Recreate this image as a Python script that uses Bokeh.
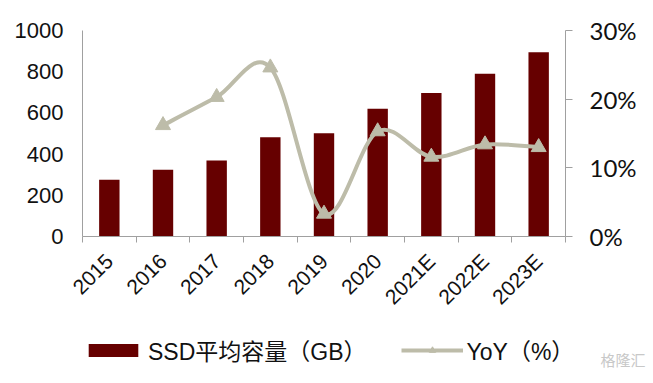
import math
from bokeh.plotting import figure
from bokeh.models import (Range1d, LinearAxis, FixedTicker, PrintfTickFormatter,
                          CustomJSTickFormatter, Legend, LegendItem, ColumnDataSource, Label)
from bokeh.embed import file_html
from bokeh.resources import INLINE

# ---- data ----
years = ["2015", "2016", "2017", "2018", "2019", "2020", "2021E", "2022E", "2023E"]
ssd_avg_gb = [275, 324, 369, 482, 501, 620, 696, 790, 895]
yoy_pct = [None, 16.2, 20.3, 24.6, 3.3, 15.3, 11.6, 13.4, 13.0]
left_ticks = [0, 200, 400, 600, 800, 1000]
right_ticks = [0, 10, 20, 30]
left_max = 1000
right_max = 30

BAR = "#660000"
LINE = "#BDBCA9"
AXIS = "#A0A0A0"
FONT = "Liberation Sans"

# layout (pixels)
W, H = 653, 383
FL, FR, FT, FB = 2, 651, 2, 381          # frame edges
PX0, PX1 = 82, 565                        # x = 0 and x = n
PY0, PY1 = 236, 30                        # y = 0 and y = max

n = len(years)
xc = [i + 0.5 for i in range(n)]

ux = (PX1 - PX0) / n
x_rng = Range1d(-(PX0 - FL) / ux, n + (FR - PX1) / ux)


def y_rng(vmax):
    uy = (PY0 - PY1) / vmax
    return Range1d(-(FB - PY0) / uy, vmax + (PY1 - FT) / uy)


p = figure(width=W, height=H, x_range=x_rng, y_range=y_rng(left_max),
           output_backend="svg", toolbar_location=None,
           x_axis_type=None, y_axis_type=None,
           min_border_left=FL, min_border_right=W - FR, min_border_top=FT,
           min_border_bottom=H - FB)
p.outline_line_color = None
p.background_fill_color = "white"
p.extra_y_ranges = {"pct": y_rng(right_max)}

# bars
bar_src = ColumnDataSource(dict(x=xc, y=ssd_avg_gb))
bars = p.vbar(x="x", top="y", bottom=0, width=0.38, source=bar_src, fill_color=BAR, line_color=None)

# smoothed YoY line (bezier segments with Catmull-Rom style control points)
pts = [(xc[i], v) for i, v in enumerate(yoy_pct) if v is not None]
seg = dict(x0=[], y0=[], x1=[], y1=[], cx0=[], cy0=[], cx1=[], cy1=[])
for k in range(len(pts) - 1):
    p0 = pts[k - 1] if k > 0 else pts[k]
    p1 = pts[k]
    p2 = pts[k + 1]
    p3 = pts[k + 2] if k + 2 < len(pts) else pts[k + 1]
    seg["x0"].append(p1[0]); seg["y0"].append(p1[1])
    seg["x1"].append(p2[0]); seg["y1"].append(p2[1])
    seg["cx0"].append(p1[0] + (p2[0] - p0[0]) / 6); seg["cy0"].append(p1[1] + (p2[1] - p0[1]) / 6)
    seg["cx1"].append(p2[0] - (p3[0] - p1[0]) / 6); seg["cy1"].append(p2[1] - (p3[1] - p1[1]) / 6)
curve = p.bezier(x0="x0", y0="y0", x1="x1", y1="y1", cx0="cx0", cy0="cy0", cx1="cx1", cy1="cy1",
                 source=ColumnDataSource(seg), line_color=LINE, line_width=4, y_range_name="pct")
mk_src = ColumnDataSource(dict(x=[q[0] for q in pts], y=[q[1] for q in pts]))
marks = p.scatter(x="x", y="y", source=mk_src, marker="triangle", size=15,
                  fill_color=LINE, line_color=LINE, y_range_name="pct")

# left axis
la = LinearAxis(ticker=FixedTicker(ticks=left_ticks), bounds=(0, left_max), fixed_location=0)
la.axis_line_color = AXIS
la.major_tick_line_color = None
la.minor_tick_line_color = None
la.major_label_standoff = 13
la.major_label_text_font = FONT
la.major_label_text_font_size = "22px"
la.major_label_text_color = "#111111"
p.add_layout(la, "left")

# right axis
ra = LinearAxis(y_range_name="pct", ticker=FixedTicker(ticks=right_ticks), bounds=(0, right_max),
                fixed_location=n, formatter=PrintfTickFormatter(format="%d%%"))
ra.axis_line_color = AXIS
ra.major_tick_line_color = AXIS
ra.major_tick_out = 7
ra.major_tick_in = 0
ra.minor_tick_line_color = None
ra.major_label_standoff = 17
ra.major_label_text_font = "Lato"
ra.major_label_text_font_size = "24px"
ra.major_label_text_color = "#111111"
p.add_layout(ra, "right")

# bottom axis at zero: boundary ticks only
ba = LinearAxis(ticker=FixedTicker(ticks=list(range(n + 1))), bounds=(0, n), fixed_location=0,
                formatter=CustomJSTickFormatter(code="return ''"))
ba.axis_line_color = AXIS
ba.major_tick_line_color = AXIS
ba.major_tick_out = 6
ba.major_tick_in = 0
ba.minor_tick_line_color = None
ba.major_label_standoff = 0
ba.major_label_text_font_size = "0px"
p.add_layout(ba, "below")

# bottom axis at zero: category labels
bl = LinearAxis(ticker=FixedTicker(ticks=xc), fixed_location=0,
                formatter=CustomJSTickFormatter(args=dict(labels=years),
                                                code="return labels[Math.floor(tick)]"))
bl.axis_line_color = None
bl.major_tick_line_color = None
bl.minor_tick_line_color = None
bl.major_tick_out = 0
bl.major_label_orientation = math.pi / 4
bl.major_label_standoff = 21
bl.major_label_text_font = FONT
bl.major_label_text_font_size = "21px"
bl.major_label_text_color = "#111111"
p.add_layout(bl, "below")

legend = Legend(items=[LegendItem(label="SSD平均容量（GB）", renderers=[bars]),
                       LegendItem(label="YoY（%）", renderers=[curve, marks])],
                orientation="horizontal", location=(80, 14),
                glyph_width=62, glyph_height=16, label_standoff=4, spacing=34,
                padding=0, margin=0, border_line_color=None, background_fill_alpha=0,
                label_text_font=FONT + ", Noto Sans CJK SC", label_text_font_size="23px",
                label_text_color="#111111")
p.add_layout(legend, "center")

wm = Label(x=598, y=12, x_units="screen", y_units="screen", text="格隆汇",
           text_font="Noto Sans CJK SC", text_font_size="15px", text_color="#C8C8C8")
p.add_layout(wm)

open("out.html", "w").write(file_html(p, INLINE))
